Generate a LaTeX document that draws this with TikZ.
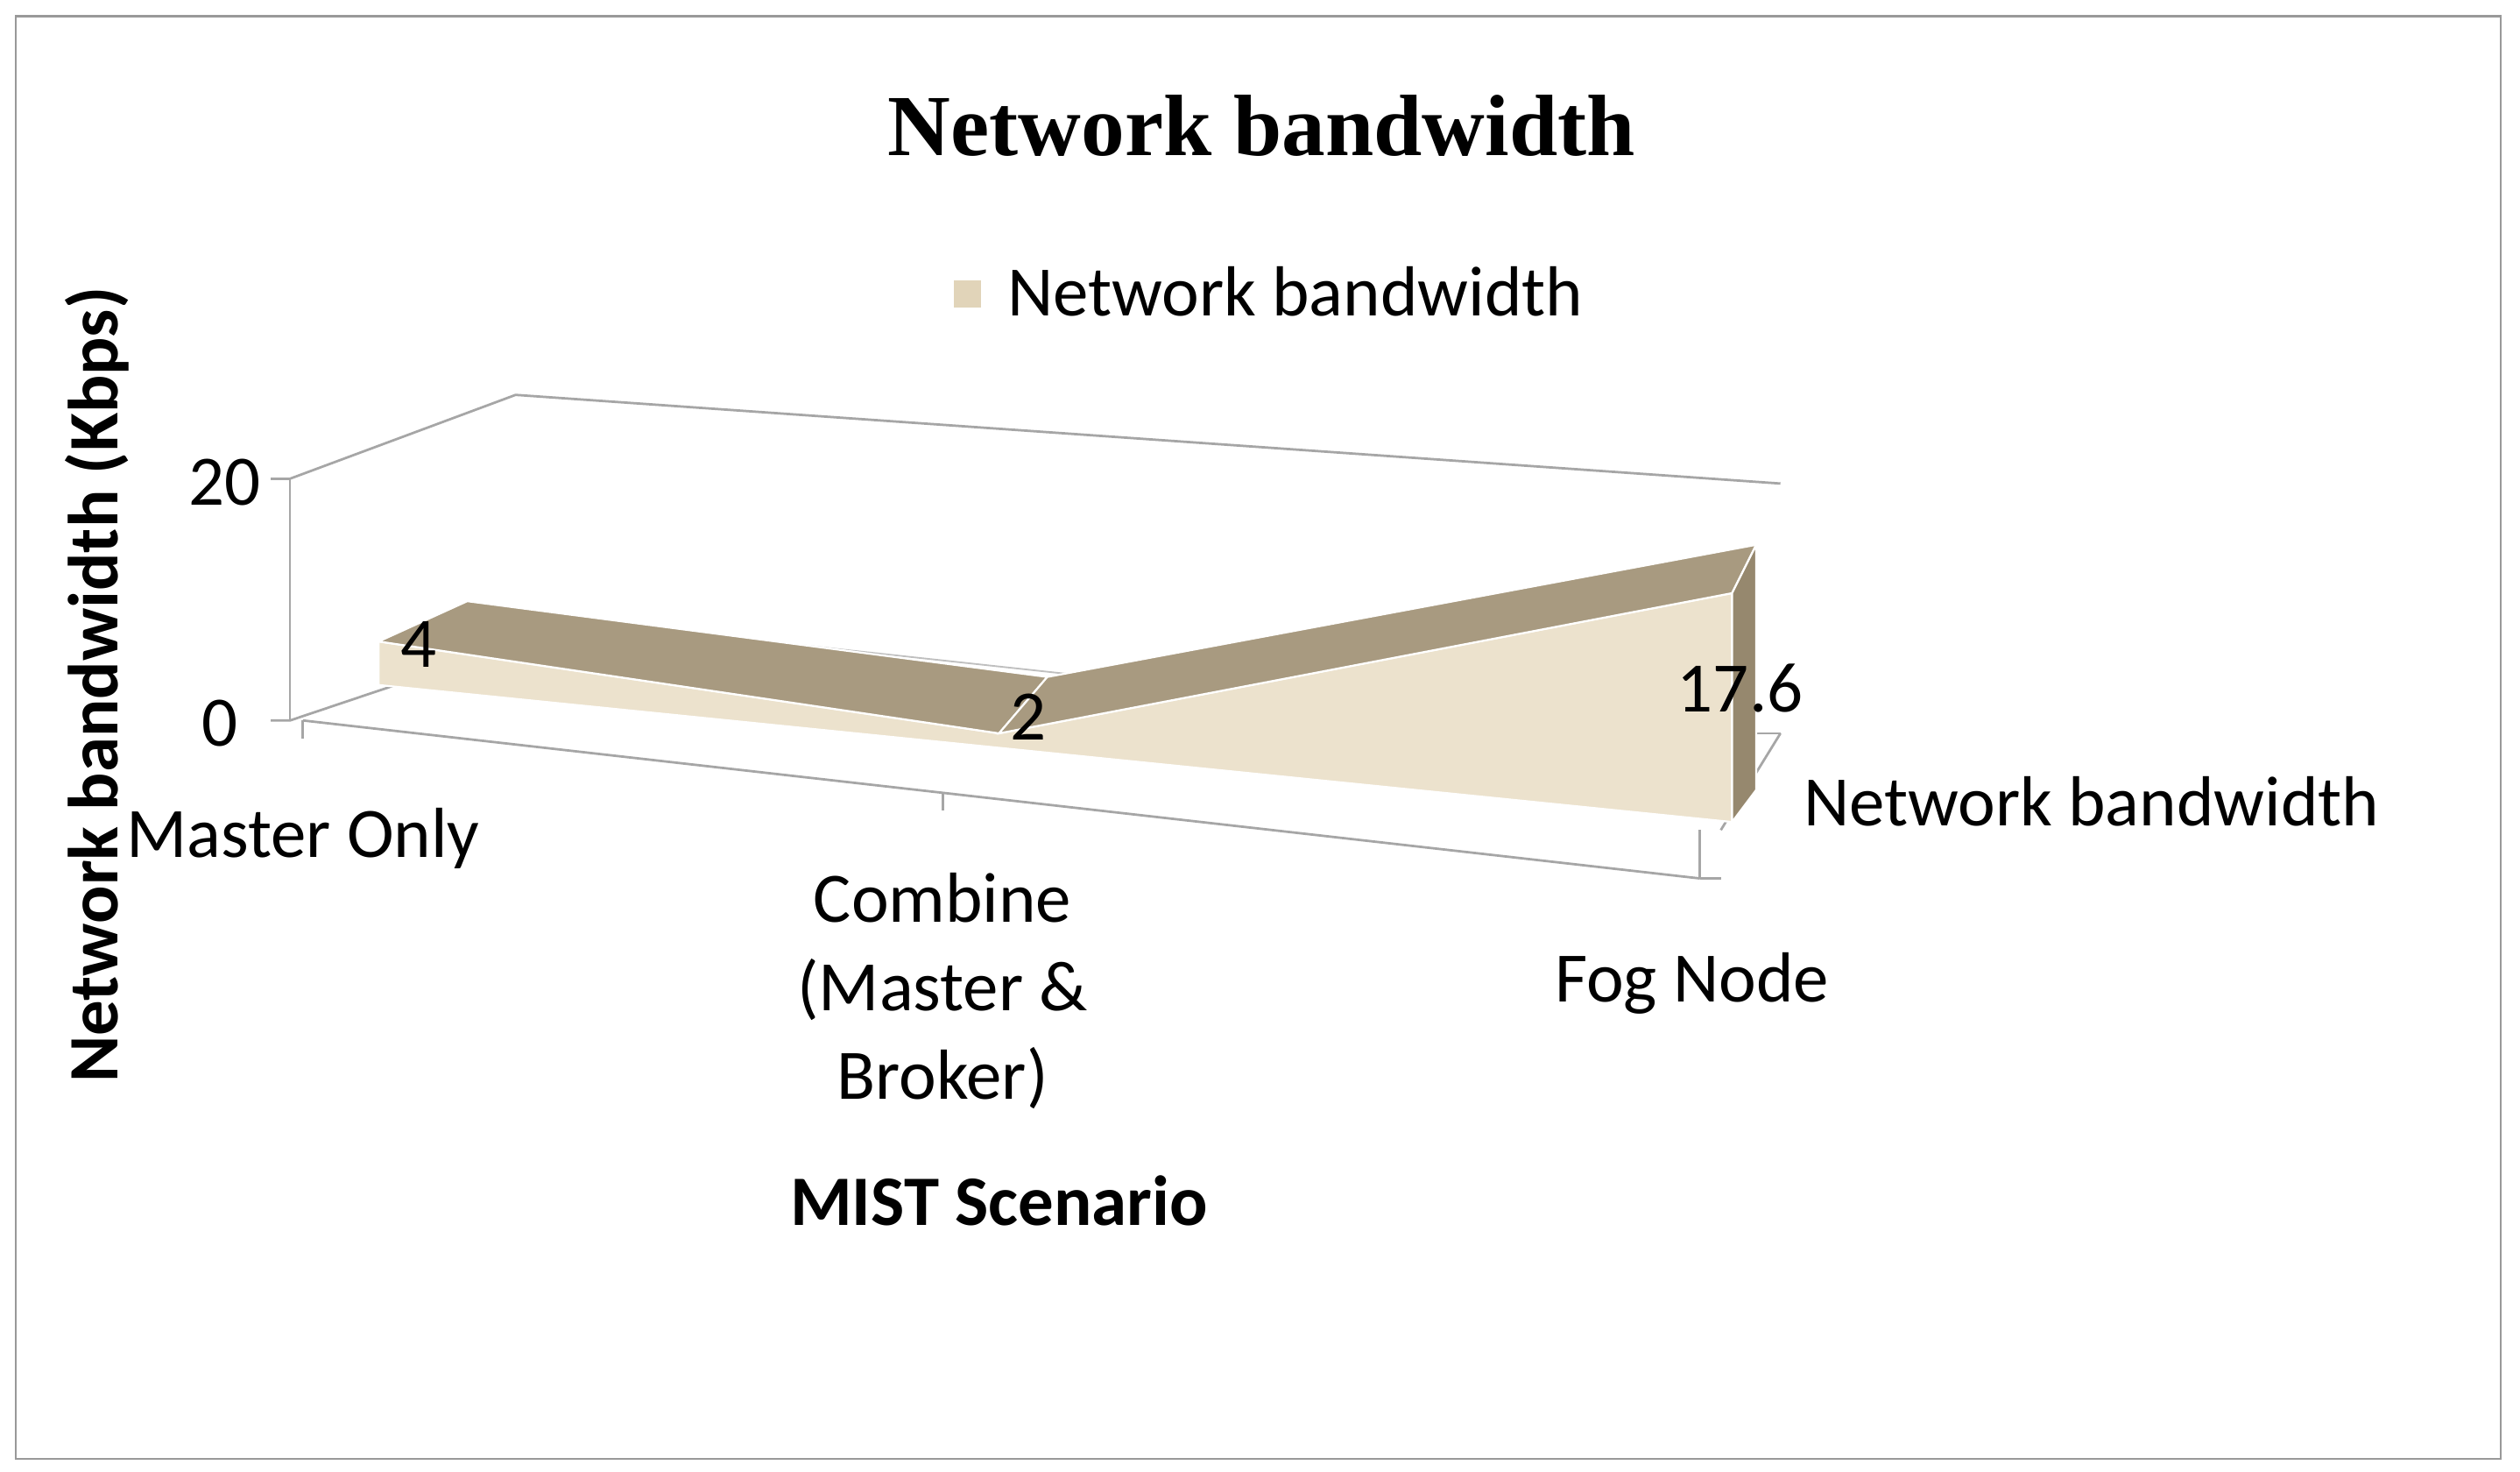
\documentclass[tikz,border=0pt]{standalone}
\usepackage{fontspec}
\setmainfont{Carlito}
\newfontfamily\ttl{Liberation Serif}
\definecolor{cfront}{RGB}{236,226,205}
\definecolor{ctop}{RGB}{168,154,128}
\definecolor{cside}{RGB}{150,136,110}
\definecolor{cleg}{RGB}{225,212,185}
\begin{document}
\begin{tikzpicture}[x=1pt,y=-1pt,
  ax/.style={draw=gray!70,line width=1.5pt},
  lbl/.style={font=\fontsize{44}{50}\selectfont,inner sep=0pt},
  front/.style={fill=cfront,draw=white,line width=1.2pt},
  top/.style={fill=ctop,draw=white,line width=1.2pt},
  side/.style={fill=cside,draw=white,line width=1.2pt}]
\useasboundingbox (0,0) rectangle (1564,913);
\fill[white] (0,0) rectangle (1564,913);
\draw[gray!80,line width=1.2pt] (10,10) rectangle (1552,905);
\node[font=\ttl\bfseries\fontsize{54}{60}\selectfont] (title) at (783,78) {Network bandwidth};
\fill[cleg] (592,174) rectangle (609,191);
\node[lbl,anchor=west] (leg) at (625,181) {Network bandwidth};
% axes
\coordinate (a20) at (180,297); \coordinate (a0) at (180,447);
\coordinate (bk) at (320,245); \coordinate (bkr) at (1105,300);
\draw[ax] (a20) -- (a0);
\draw[ax] (a20) -- (bk) -- (bkr);
\draw[ax] (168,297) -- (a20);
\draw[ax] (168,447) -- (a0) -- (320,400);
\draw[ax] (188,447) -- (1055,545);
\draw[ax] (188,447) -- (188,458);
\draw[ax] (585,492) -- (585,503);
\draw[ax] (1055,545) -- (1068,545);
\draw[ax] (1055,545) -- (1055,515);
\draw[ax] (1068,515) -- (1105,455);
\draw[ax] (1090,455) -- (1105,455);
\draw[gray!50,line width=1pt] (430,393) -- (680,420);
% series
\coordinate (f1) at (235,398); \coordinate (f2) at (620,455); \coordinate (f3) at (1075,368);
\coordinate (b1) at (290,373); \coordinate (b2) at (650,420); \coordinate (b3) at (1090,338);
\coordinate (g1) at (235,425); \coordinate (g3) at (1075,510); \coordinate (g4) at (1090,490);
\draw[front] (g1) -- (f1) -- (f2) -- (f3) -- (g3) -- cycle;
\draw[top] (f1) -- (b1) -- (b2) -- (f2) -- cycle;
\draw[top] (f2) -- (b2) -- (b3) -- (f3) -- cycle;
\draw[side] (f3) -- (b3) -- (g4) -- (g3) -- cycle;
\node[lbl] (v1) at (260,400) {4};
\node[lbl] (v2) at (638,445) {2};
\node[lbl] (v3) at (1080,427) {17.6};
\node[lbl,anchor=east] (t20) at (162,299) {20};
\node[lbl,anchor=east] (t0) at (148,449) {0};
\node[lbl] (c1) at (188,520) {Master Only};
\node[lbl,align=center,font=\fontsize{44}{55}\selectfont] (c2) at (585,615) {Combine\\(Master \&\\Broker)};
\node[lbl] (c3) at (1050,610) {Fog Node};
\node[lbl] (ser) at (1298,497) {Network bandwidth};
\node[lbl,font=\bfseries\fontsize{44}{50}\selectfont] (xt) at (620,745) {MIST Scenario};
\node[lbl,font=\bfseries\fontsize{44}{50}\selectfont,rotate=90] (yt) at (60,425) {Network bandwidth (Kbps)};
\end{tikzpicture}
\end{document}
